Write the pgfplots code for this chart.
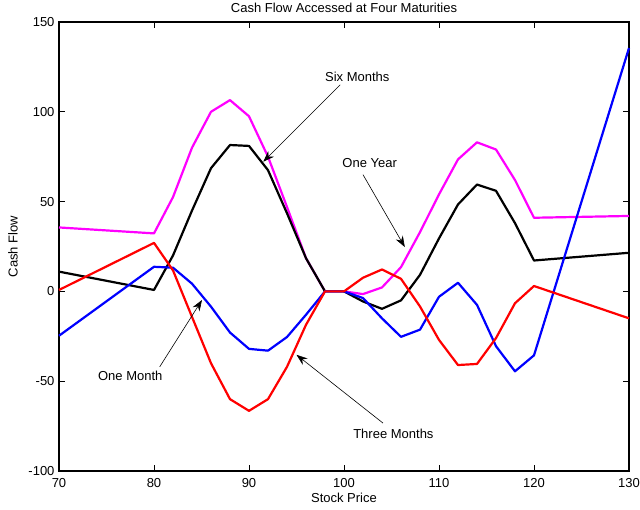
\documentclass[border=0pt]{standalone}
\usepackage{pgfplots}
\pgfplotsset{compat=1.18}
\usepackage{fontspec}
\setmainfont{Liberation Sans}
\usetikzlibrary{arrows.meta}
\begin{document}
\fontsize{13}{15.6}\selectfont
\begin{tikzpicture}[font=\fontsize{13}{15.6}\selectfont]
\begin{axis}[
  scale only axis, width=570pt, height=449pt,
  xmin=70, xmax=130, ymin=-100, ymax=150,
  xtick={70,80,...,130}, ytick={-100,-50,...,150},
  tick pos=both, tick align=inside, major tick length=6pt,
  axis line style={line width=1.4pt},
  tick style={black, line width=0.9pt},
  /pgf/number format/assume math mode=true,
  tick label style={font=\fontsize{13}{15.6}\selectfont},
  xticklabel style={yshift=-3pt},
  label style={font=\fontsize{13}{15.6}\selectfont},
  title style={font=\fontsize{13}{15.6}\selectfont, anchor=center, yshift=8pt},
  xlabel style={anchor=center, yshift=-27pt, at={(0.5,0)}},
  ylabel style={anchor=center, at={(0,0.5)}, yshift=46pt},
  title={Cash Flow Accessed at Four Maturities},
  xlabel={Stock Price}, ylabel={Cash Flow},
  clip=false,
  every axis plot/.append style={line width=2.2pt, no markers, line join=round},
]
% One Year
\addplot[color={rgb,1:red,1;green,0;blue,1}] coordinates {
(70,35.6)(80,32.3)(82,52.5)(84,80)(86,100)(88,106.5)(90,97.5)(92,75)(94,47)(96,18.5)(98,0)(100,0)(102,-1.5)(104,2.2)(106,13.5)(108,33)(110,54)(112,73.5)(114,83)(116,79)(118,62)(120,41)(130,42)};
% Six Months
\addplot[color=black] coordinates {
(70,11)(80,0.8)(82,20)(84,45)(86,68.6)(88,81.5)(90,81)(92,67.5)(94,43.5)(96,18.5)(98,0)(100,0)(102,-5.6)(104,-9.7)(106,-5)(108,9.2)(110,29.5)(112,48.4)(114,59.5)(116,56)(118,38)(120,17.2)(130,21.5)};
% One Month
\addplot[color=blue] coordinates {
(70,-24.7)(80,13.7)(82,13.2)(84,4.3)(86,-8.5)(88,-22.9)(90,-32)(92,-33)(94,-25.4)(96,-13)(98,0)(100,0)(102,-3.7)(104,-15)(106,-25.3)(108,-21.3)(110,-3)(112,4.8)(114,-7.5)(116,-30.5)(118,-44.5)(120,-35.6)(130,135.5)};
% Three Months
\addplot[color=red] coordinates {
(70,0.8)(80,27)(82,11.7)(84,-14.2)(86,-40)(88,-60)(90,-66.5)(92,-60)(94,-42)(96,-18.6)(98,0)(100,0)(102,7.6)(104,12.2)(106,7)(108,-8.4)(110,-27)(112,-41)(114,-40.4)(116,-26)(118,-6.6)(120,3)(130,-15)};
% annotations
\draw[line width=0.6pt,-{Stealth[length=11pt,width=8pt]}] (axis cs:99.6,115) -- (axis cs:91.5,72.2);
\node at (axis cs:101.4,119.4) {Six Months};
\draw[line width=0.6pt,-{Stealth[length=11pt,width=8pt]}] (axis cs:102,65) -- (axis cs:106.4,24.7);
\node at (axis cs:102.7,71.5) {One Year};
\draw[line width=0.6pt,-{Stealth[length=11pt,width=8pt]}] (axis cs:80.6,-42) -- (axis cs:85.05,-4.8);
\node at (axis cs:77.5,-47) {One Month};
\draw[line width=0.6pt,-{Stealth[length=11pt,width=8pt]}] (axis cs:104.1,-73.3) -- (axis cs:95,-35.3);
\node at (axis cs:105.2,-79.3) {Three Months};
\end{axis}
\pgfresetboundingbox
\path[use as bounding box] (-59pt,-39pt) rectangle (581pt,471pt);
\end{tikzpicture}
\end{document}
